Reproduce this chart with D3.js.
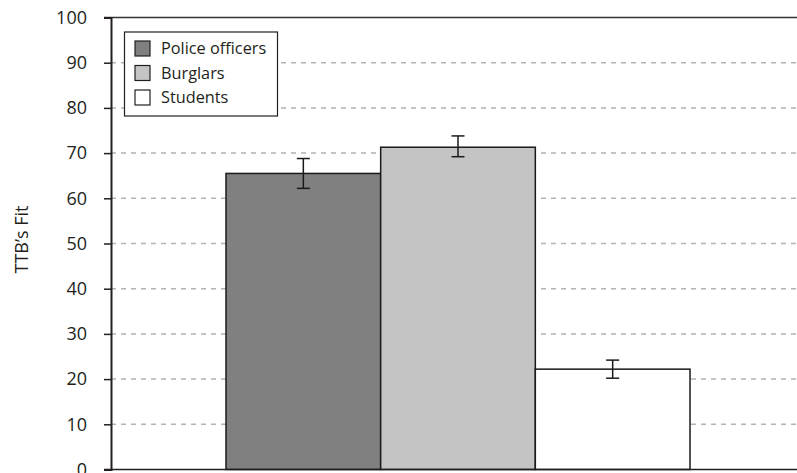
<!DOCTYPE html>
<html>
<head>
<meta charset="utf-8">
<script src="https://cdn.jsdelivr.net/npm/d3@7/dist/d3.min.js"></script>
<style>
  html, body { margin: 0; padding: 0; background: #fff; }
  svg { display: block; }
  text { font-family: "Open Sans", "Noto Sans", sans-serif; fill: #231f20; }
</style>
</head>
<body>
<svg id="chart" width="797" height="473"></svg>
<script>
// Mean TTB fit per group, with error bar bounds
const groups = ["Police officers", "Burglars", "Students"];
const means = [65.5, 71.3, 22.2];
const errLow = [62.2, 69.2, 20.2];
const errHigh = [68.8, 73.8, 24.2];
const fills = ["#808080", "#c3c4c3", "#ffffff"];
const yTicks = [0, 10, 20, 30, 40, 50, 60, 70, 80, 90, 100];

const svg = d3.select("#chart");
const plotLeft = 111, plotRight = 805, plotTop = 17.5, plotBottom = 469.5;

const y = d3.scaleLinear().domain([0, 100]).range([plotBottom, plotTop]);
const x = d3.scaleBand().domain(groups).range([226, 690]).paddingInner(0).paddingOuter(0);

// dashed gridlines
svg.append("g").selectAll("line")
  .data(yTicks.filter(d => d > 0 && d < 100))
  .join("line")
  .attr("x1", plotLeft).attr("x2", plotRight)
  .attr("y1", d => y(d)).attr("y2", d => y(d))
  .attr("stroke", "#b3b3b3").attr("stroke-width", 1.5)
  .attr("stroke-dasharray", "5,5");

// top frame line
svg.append("line")
  .attr("x1", plotLeft - 7).attr("x2", plotRight)
  .attr("y1", y(100)).attr("y2", y(100))
  .attr("stroke", "#333").attr("stroke-width", 1.5);

// bars
svg.append("g").selectAll("rect")
  .data(groups)
  .join("rect")
  .attr("x", d => x(d))
  .attr("width", x.bandwidth())
  .attr("y", (d, i) => y(means[i]))
  .attr("height", (d, i) => y(0) - y(means[i]))
  .attr("fill", (d, i) => fills[i])
  .attr("stroke", "#1a1a1a").attr("stroke-width", 1.5);

// error bars
const eb = svg.append("g").attr("stroke", "#1a1a1a").attr("stroke-width", 1.5);
groups.forEach((g, i) => {
  const cx = x(g) + x.bandwidth() / 2;
  eb.append("line").attr("x1", cx).attr("x2", cx).attr("y1", y(errLow[i])).attr("y2", y(errHigh[i]));
  eb.append("line").attr("x1", cx - 6.5).attr("x2", cx + 6.5).attr("y1", y(errLow[i])).attr("y2", y(errLow[i]));
  eb.append("line").attr("x1", cx - 6.5).attr("x2", cx + 6.5).attr("y1", y(errHigh[i])).attr("y2", y(errHigh[i]));
});

// y axis
const yAxis = d3.axisLeft(y).tickValues(yTicks).tickSize(7).tickPadding(17);
const ga = svg.append("g").attr("transform", `translate(${plotLeft},0)`).call(yAxis);
ga.select(".domain").attr("stroke", "#231f20").attr("stroke-width", 2);
ga.selectAll(".tick line").attr("stroke", "#231f20").attr("stroke-width", 1.5);
ga.selectAll(".tick text").style("font-size", "18px").attr("fill", "#231f20");

// baseline
svg.append("line")
  .attr("x1", plotLeft - 7).attr("x2", plotRight)
  .attr("y1", y(0)).attr("y2", y(0))
  .attr("stroke", "#231f20").attr("stroke-width", 1.5);

// y axis title
svg.append("text")
  .attr("transform", `translate(28,${(plotTop + plotBottom) / 2 - 4}) rotate(-90)`)
  .attr("text-anchor", "middle")
  .style("font-size", "18px")
  .text("TTB\u2019s Fit");

// legend
const lg = svg.append("g");
lg.append("rect")
  .attr("x", 124.5).attr("y", 32).attr("width", 153).attr("height", 84)
  .attr("fill", "#fff").attr("stroke", "#231f20").attr("stroke-width", 1.2);
groups.forEach((g, i) => {
  const cy = 48.5 + i * 24.5;
  lg.append("rect")
    .attr("x", 135).attr("y", cy - 7.5).attr("width", 15).attr("height", 15)
    .attr("fill", fills[i]).attr("stroke", "#231f20").attr("stroke-width", 1.2);
  lg.append("text")
    .attr("x", 161).attr("y", cy).attr("dy", "0.35em")
    .style("font-size", "16.3px")
    .text(g);
});
</script>
</body>
</html>
